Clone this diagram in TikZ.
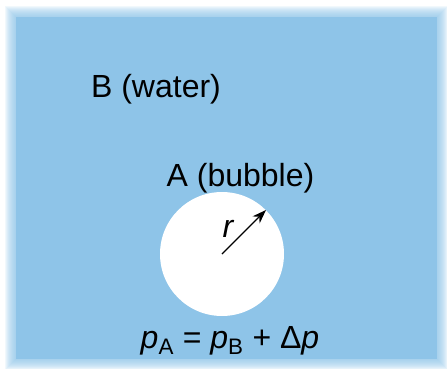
\documentclass[tikz,border=0pt]{standalone}
\usepackage{fontspec}
\setmainfont{Liberation Sans}
\usetikzlibrary{arrows.meta}
\definecolor{water}{HTML}{8EC4E8}

\begin{document}
\begin{tikzpicture}[x=1pt,y=1pt,
      every node/.style={font=\fontsize{32}{38}\selectfont,inner sep=0pt},
      arr/.style={-{Stealth[length=14pt,width=10pt]},line width=1.4pt}
    ]
      \useasboundingbox (0,0) rectangle (447,368);
      % soft edged water
      \fill[water] (16,9) rectangle (437,351);
      \foreach \d in {-4,...,6}
        \fill[water,fill opacity=0.12] (11-\d,4-\d) rectangle (442+\d,356+\d);
      \node[circle,fill=white,minimum size=124pt] (bubble) at (222,114) {};
      \node[anchor=base] (water) at (156,271) {B (water)};
      \node[anchor=base] (bub) at (240.5,182) {A (bubble)};
      \node[anchor=base] (r) at (228,131) {\itshape r};
      \node[anchor=base] (eq) at (230,20) {\itshape p\/\textsubscript{\upshape A} \upshape= \itshape p\/\textsubscript{\upshape B} \upshape+ Δ\itshape p};
      \draw[arr] (bubble.center) -- (bubble.45);
    \end{tikzpicture}
\end{document}
